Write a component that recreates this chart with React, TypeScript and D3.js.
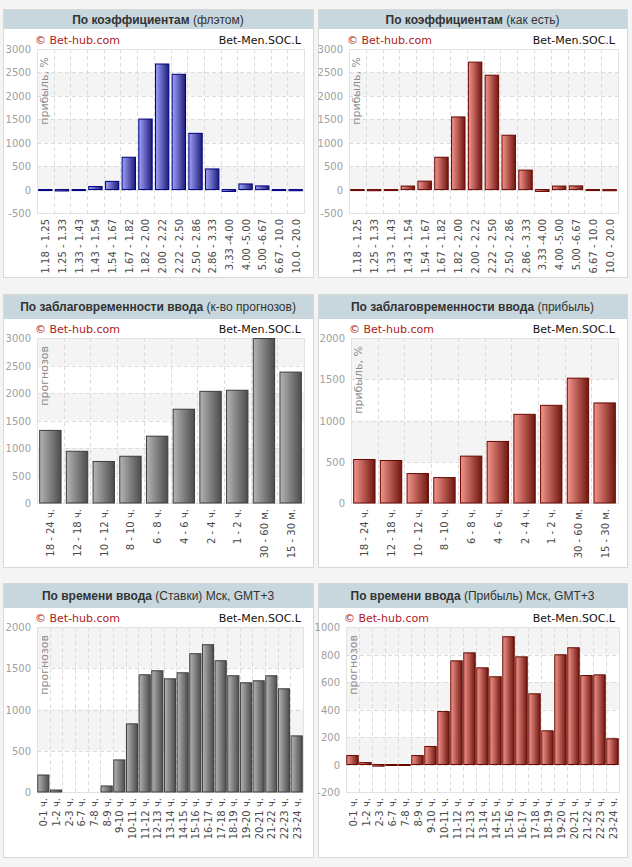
import React from "react"
import * as d3 from "d3"

// categories
const coefCats = [
    "1.18 - 1.25", "1.25 - 1.33", "1.33 - 1.43", "1.43 - 1.54", "1.54 - 1.67", "1.67 - 1.82",
    "1.82 - 2.00", "2.00 - 2.22", "2.22 - 2.50", "2.50 - 2.86", "2.86 - 3.33", "3.33 -4.00",
    "4.00 -5.00", "5.00 -6.67", "6.67 - 10.0", "10.0 - 20.0",
]
const leadCats = ["18 - 24 ч.", "12 - 18 ч.", "10 - 12 ч.", "8 - 10 ч.", "6 - 8 ч.", "4 - 6 ч.", "2 - 4 ч.", "1 - 2 ч.", "30 - 60 м.", "15 - 30 м."]
const hourCats = [
    "0-1 ч.", "1-2 ч.", "2-3 ч.", "6-7 ч.", "7-8 ч.", "8-9 ч.", "9-10 ч.", "10-11 ч.", "11-12 ч.", "12-13 ч.", "13-14 ч.",
    "14-15 ч.", "15-16 ч.", "16-17 ч.", "17-18 ч.", "18-19 ч.", "19-20 ч.", "20-21 ч.", "21-22 ч.", "22-23 ч.", "23-24 ч.",
]

// series values
const coefFlat = [-10, -30, -5, 65, 175, 690, 1505, 2680, 2460, 1200, 440, -40, 120, 78, -5, -25]
const coefAsIs = [-5, -25, -5, 75, 180, 690, 1550, 2720, 2440, 1160, 415, -40, 75, 78, -5, -25]
const leadCount = [1320, 940, 755, 850, 1215, 1705, 2030, 2050, 2990, 2380]
const leadProfit = [527, 515, 357, 308, 568, 746, 1075, 1184, 1513, 1213]
const hourCount = [206, 24, 0, 0, 0, 73, 389, 826, 1421, 1470, 1372, 1445, 1676, 1785, 1591, 1409, 1324, 1348, 1409, 1251, 680]
const hourProfit = [65, 14, -12, -3, -3, 65, 131, 385, 754, 812, 703, 638, 929, 783, 514, 245, 798, 849, 647, 652, 187]

// y tick labels
const ticksCoef = [-500, 0, 500, 1000, 1500, 2000, 2500, 3000]
const ticksLeadCount = [0, 500, 1000, 1500, 2000, 2500, 3000]
const ticks2000 = [0, 500, 1000, 1500, 2000]
const ticksHourProfit = [-200, 0, 200, 400, 600, 800, 1000]

const FONT = "'DejaVu Sans', Verdana, sans-serif"
const TITLE_FONT = "'Liberation Sans', Arial, sans-serif"

const palettes: Record<string, { from: string, to: string, stroke: string }> = {
    blue: { from: "#a0a2fa", to: "#1c1c78", stroke: "#000080" },
    red: { from: "#f4958d", to: "#6e160e", stroke: "#6a0800" },
    grey: { from: "#b4b4b4", to: "#4c4c4c", stroke: "#3c3c3c" },
}

interface IPanelProps {
    id: string,
    x: number, y: number, w: number, h: number, headerH: number,
    titleBold: string, titleRest: string,
    plot: { left: number, right: number, top: number, bottom: number },
    cats: string[], values: number[], ticks: number[],
    color: string, yTitle: string, padding: number,
}

function Panel(props: IPanelProps) {
    const { id, x, y, w, h, headerH, titleBold, titleRest, plot, cats, values, ticks, color, yTitle, padding } = props
    const pal = palettes[color]

    const xScale = d3.scaleBand<string>()
        .domain(cats)
        .range([plot.left, plot.right])
        .paddingInner(padding)
        .paddingOuter(padding / 2)
    const yScale = d3.scaleLinear()
        .domain([ticks[0], ticks[ticks.length - 1]])
        .range([plot.bottom, plot.top])

    const step = xScale.step()
    const bandEdges = d3.range(1, cats.length).map(i => plot.left + i * step)

    return (<g>
        <rect x={x + .5} y={y + .5} width={w} height={h} fill="#fff" stroke="#d8d8d8"/>
        <rect x={x + 1} y={y + 1} width={w - 1} height={headerH} fill="#c8d7dd"/>
        <text x={x + w / 2} y={y + headerH / 2 + 5} textAnchor="middle" fontSize={12} fill="#333" fontFamily={TITLE_FONT}>
            <tspan fontWeight="bold">{titleBold}</tspan>
            <tspan>{" " + titleRest}</tspan>
        </text>

        <text x={plot.left - 2} y={plot.top - 5.5} fontSize={11} fill="#b0201a" fontFamily={FONT}>© Bet-hub.com</text>
        <text x={x + w - 12} y={plot.top - 5.5} textAnchor="end" fontSize={11} fill="#111" fontFamily={FONT}>Bet-Men.SOC.L</text>

        {/* alternate shading */}
        {ticks.slice(0, -1).map((t, i) => i % 2 === 1 ?
            <rect key={"s" + i} x={plot.left} width={plot.right - plot.left}
                  y={yScale(ticks[i + 1])} height={yScale(t) - yScale(ticks[i + 1])} fill="#f4f4f4"/> : null)}

        {/* grid */}
        {ticks.map(t =>
            <line key={"h" + t} x1={plot.left} x2={plot.right} y1={Math.round(yScale(t)) + .5} y2={Math.round(yScale(t)) + .5}
                  stroke="#dcdcdc" strokeDasharray="4,3"/>)}
        {bandEdges.map((e, i) =>
            <line key={"v" + i} x1={Math.round(e) + .5} x2={Math.round(e) + .5} y1={plot.top} y2={plot.bottom}
                  stroke="#dcdcdc" strokeDasharray="4,3"/>)}
        <rect x={plot.left + .5} y={plot.top + .5} width={plot.right - plot.left} height={plot.bottom - plot.top}
              fill="none" stroke="#e2e2e2"/>

        {/* y ticks */}
        {ticks.map(t =>
            <text key={"t" + t} x={plot.left - 6} y={yScale(t) + 4} textAnchor="end" fontSize={10} fill="#a0a0a0"
                  fontFamily={FONT}>{t}</text>)}

        <text transform={`translate(${plot.left + 11},${plot.top + 8}) rotate(-90)`} textAnchor="end"
              fontSize={11} fill="#8c8c8c" fontFamily={FONT}>{yTitle}</text>

        {/* bars, zero values draw nothing */}
        {values.map((v, i) => {
            if (v === 0) return null
            const y0 = yScale(0), y1 = yScale(v)
            const top = Math.min(y0, y1)
            const hh = Math.max(Math.abs(y1 - y0), 1)
            return <rect key={"b" + i} x={xScale(cats[i])} width={xScale.bandwidth()} y={top} height={hh}
                         fill={`url(#grad-${id})`} stroke={pal.stroke} strokeWidth={1}/>
        })}

        {/* x labels */}
        {cats.map(c =>
            <text key={"x" + c} transform={`translate(${(xScale(c) || 0) + xScale.bandwidth() / 2 + 4},${plot.bottom + 6}) rotate(-90)`}
                  textAnchor="end" fontSize={10} fill="#4a4a4a" fontFamily={FONT}>{c}</text>)}
    </g>)
}

export default function App() {
    return (
        <div style={{ position: "absolute", left: 0, top: 0 }}>
            <svg width={632} height={867} style={{ display: "block" }}>
                <defs>
                    {["a", "b", "c", "d", "e", "f"].map((id, i) => {
                        const pal = palettes[["blue", "red", "grey", "red", "grey", "red"][i]]
                        return <linearGradient key={id} id={`grad-${id}`} x1="0" x2="1" y1="0" y2="0">
                            <stop offset="0%" stopColor={pal.from}/>
                            <stop offset="100%" stopColor={pal.to}/>
                        </linearGradient>
                    })}
                </defs>
                <rect width={632} height={867} fill="#f4f4f4"/>

                <Panel id="a" x={3} y={9} w={310} h={268} headerH={19}
                       titleBold="По коэффициентам" titleRest="(флэтом)"
                       plot={{ left: 37, right: 304, top: 49, bottom: 213 }}
                       cats={coefCats} values={coefFlat} ticks={ticksCoef} color="blue" yTitle="прибыль, %" padding={0.2}/>
                <Panel id="b" x={318} y={9} w={309} h={268} headerH={19}
                       titleBold="По коэффициентам" titleRest="(как есть)"
                       plot={{ left: 349, right: 618, top: 49, bottom: 213 }}
                       cats={coefCats} values={coefAsIs} ticks={ticksCoef} color="red" yTitle="прибыль, %" padding={0.2}/>

                <Panel id="c" x={3} y={294} w={310} h={273} headerH={24}
                       titleBold="По заблаговременности ввода" titleRest="(к-во прогнозов)"
                       plot={{ left: 37, right: 304, top: 338, bottom: 503 }}
                       cats={leadCats} values={leadCount} ticks={ticksLeadCount} color="grey" yTitle="прогнозов" padding={0.2}/>
                <Panel id="d" x={318} y={294} w={309} h={273} headerH={24}
                       titleBold="По заблаговременности ввода" titleRest="(прибыль)"
                       plot={{ left: 351, right: 618, top: 338, bottom: 503 }}
                       cats={leadCats} values={leadProfit} ticks={ticks2000} color="red" yTitle="прибыль, %" padding={0.2}/>

                <Panel id="e" x={3} y={583} w={310} h={274} headerH={24}
                       titleBold="По времени ввода" titleRest="(Ставки) Мск, GMT+3"
                       plot={{ left: 37, right: 303, top: 627, bottom: 792 }}
                       cats={hourCats} values={hourCount} ticks={ticks2000} color="grey" yTitle="прогнозов" padding={0.12}/>
                <Panel id="f" x={318} y={583} w={309} h={274} headerH={24}
                       titleBold="По времени ввода" titleRest="(Прибыль) Мск, GMT+3"
                       plot={{ left: 346, right: 619, top: 627, bottom: 792 }}
                       cats={hourCats} values={hourProfit} ticks={ticksHourProfit} color="red" yTitle="прогнозов" padding={0.12}/>
            </svg>
        </div>
    )
}
